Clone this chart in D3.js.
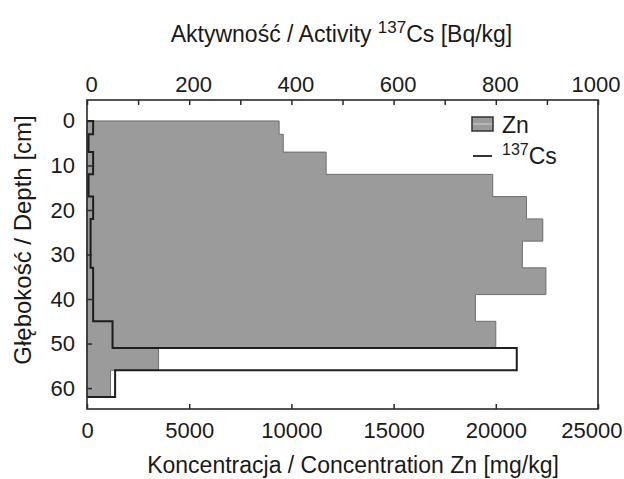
<!DOCTYPE html>
<html>
<head>
<meta charset="utf-8">
<script src="https://cdn.jsdelivr.net/npm/d3@7"></script>
<style>
  body { margin: 0; background: #fff; }
  svg text { font-family: "Liberation Sans", Arial, sans-serif; fill: #1a1a1a; }
</style>
</head>
<body>
<div id="chart"></div>
<script>
// layer boundaries (cm) and values per layer
var depthEdges = [0, 3, 7, 12, 17, 22, 27, 33, 39, 45, 51, 56, 62];
var znValues = [9400, 9600, 11700, 19850, 21500, 22300, 21300, 22450, 19000, 20000, 3500, 1150];
var csValues = [12, 3, 12, 3, 12, 7, 7, 12, 12, 50, 841, 55];
var depthTicks = [0, 10, 20, 30, 40, 50, 60];
var znTicks = [0, 5000, 10000, 15000, 20000, 25000];
var csTicks = [0, 200, 400, 600, 800, 1000];

var W = 624, H = 479;
var mLeft = 87, mTop = 100, pw = 511, ph = 309;

var svg = d3.select("#chart").append("svg")
  .attr("width", W).attr("height", H);

var g = svg.append("g").attr("transform", "translate(" + mLeft + "," + mTop + ")");

var x = d3.scaleLinear().domain([0, 25000]).range([0, pw]);     // Zn
var xCs = d3.scaleLinear().domain([0, 1000]).range([0, pw]);    // 137Cs
var y = d3.scaleLinear().domain([-4.7, 64.7]).range([0, ph]);   // depth

// Zn profile (stepped area)
var znPts = [];
znValues.forEach(function(v, i) {
  znPts.push({d: depthEdges[i], v: v});
  znPts.push({d: depthEdges[i + 1], v: v});
});
g.append("path")
  .datum(znPts)
  .attr("d", d3.area().y(function(d) { return y(d.d); }).x0(x(0)).x1(function(d) { return x(d.v); }))
  .attr("fill", "#9b9b9b")
  .attr("stroke", "#6e6e6e")
  .attr("stroke-width", 1);

// Cs profile (stepped line)
var csPts = [{d: 0, v: 0}];
csValues.forEach(function(v, i) {
  csPts.push({d: depthEdges[i], v: v});
  csPts.push({d: depthEdges[i + 1], v: v});
});
csPts.push({d: depthEdges[depthEdges.length - 1], v: 0});
g.append("path")
  .datum(csPts)
  .attr("d", d3.line().x(function(d) { return xCs(d.v); }).y(function(d) { return y(d.d); }))
  .attr("fill", "none")
  .attr("stroke", "#1e1e1e")
  .attr("stroke-width", 2);

// frame
g.append("rect")
  .attr("width", pw).attr("height", ph)
  .attr("fill", "none").attr("stroke", "#2a2a2a").attr("stroke-width", 1.6);

// axes, ticks inward
var fs = 22;
var fmt = d3.format("d");
var axB = g.append("g").attr("transform", "translate(0," + ph + ")")
  .call(d3.axisBottom(x).tickValues(znTicks).tickFormat(fmt).tickSizeInner(-5).tickSizeOuter(0).tickPadding(13));
var axT = g.append("g")
  .call(d3.axisTop(xCs).tickValues(d3.range(0, 1001, 100)).tickSizeInner(-5).tickSizeOuter(0).tickPadding(8)
    .tickFormat(function(d) { return csTicks.indexOf(d) >= 0 ? fmt(d) : ""; }));
var axL = g.append("g")
  .call(d3.axisLeft(y).tickValues(depthTicks).tickFormat(fmt).tickSizeInner(-5).tickSizeOuter(0).tickPadding(12));

[axB, axT, axL].forEach(function(a) {
  a.select(".domain").remove();
  a.selectAll(".tick line").attr("stroke", "#2a2a2a").attr("stroke-width", 1.5);
  a.selectAll(".tick text").attr("font-size", fs).attr("fill", "#1a1a1a")
    .attr("font-family", "Liberation Sans, Arial, sans-serif");
});
axT.selectAll(".tick text").attr("dx", 4);
// keep the last labels inside the picture
axT.selectAll(".tick").filter(function(d) { return d === 1000; }).select("text")
  .attr("text-anchor", "end").attr("dx", 22);
axB.selectAll(".tick").filter(function(d) { return d === 25000; }).select("text")
  .attr("text-anchor", "end").attr("dx", 24);

// legend
var lg = g.append("g").attr("transform", "translate(385,17)");
lg.append("rect").attr("x", 0).attr("y", 0).attr("width", 21).attr("height", 14)
  .attr("fill", "#9b9b9b").attr("stroke", "#333").attr("stroke-width", 1.5);
lg.append("line").attr("x1", 1).attr("x2", 20).attr("y1", 7).attr("y2", 7)
  .attr("stroke", "#d0d0d0").attr("stroke-width", 1);
lg.append("text").attr("x", 30).attr("y", 16).attr("font-size", 23).text("Zn");
lg.append("line").attr("x1", 1).attr("x2", 20).attr("y1", 39).attr("y2", 39)
  .attr("stroke", "#1e1e1e").attr("stroke-width", 1.8);
var csLab = lg.append("text").attr("x", 30).attr("y", 47).attr("font-size", 23);
csLab.append("tspan").attr("font-size", 16).attr("dy", -9).text("137");
csLab.append("tspan").attr("dy", 9).text("Cs");

// axis titles
svg.append("text").attr("x", 353).attr("y", 473)
  .attr("text-anchor", "middle").attr("font-size", 23)
  .text("Koncentracja / Concentration Zn [mg/kg]");

var tt = svg.append("text").attr("x", mLeft + pw / 2 - 1).attr("y", 42)
  .attr("text-anchor", "middle").attr("font-size", 23);
tt.append("tspan").text("Aktywność / Activity ");
tt.append("tspan").attr("font-size", 17).attr("dy", -9).text("137");
tt.append("tspan").attr("dy", 9).text("Cs [Bq/kg]");

svg.append("text")
  .attr("transform", "translate(31," + 240 + ") rotate(-90)")
  .attr("text-anchor", "middle").attr("font-size", 24)
  .text("Głębokość / Depth [cm]");
</script>
</body>
</html>
